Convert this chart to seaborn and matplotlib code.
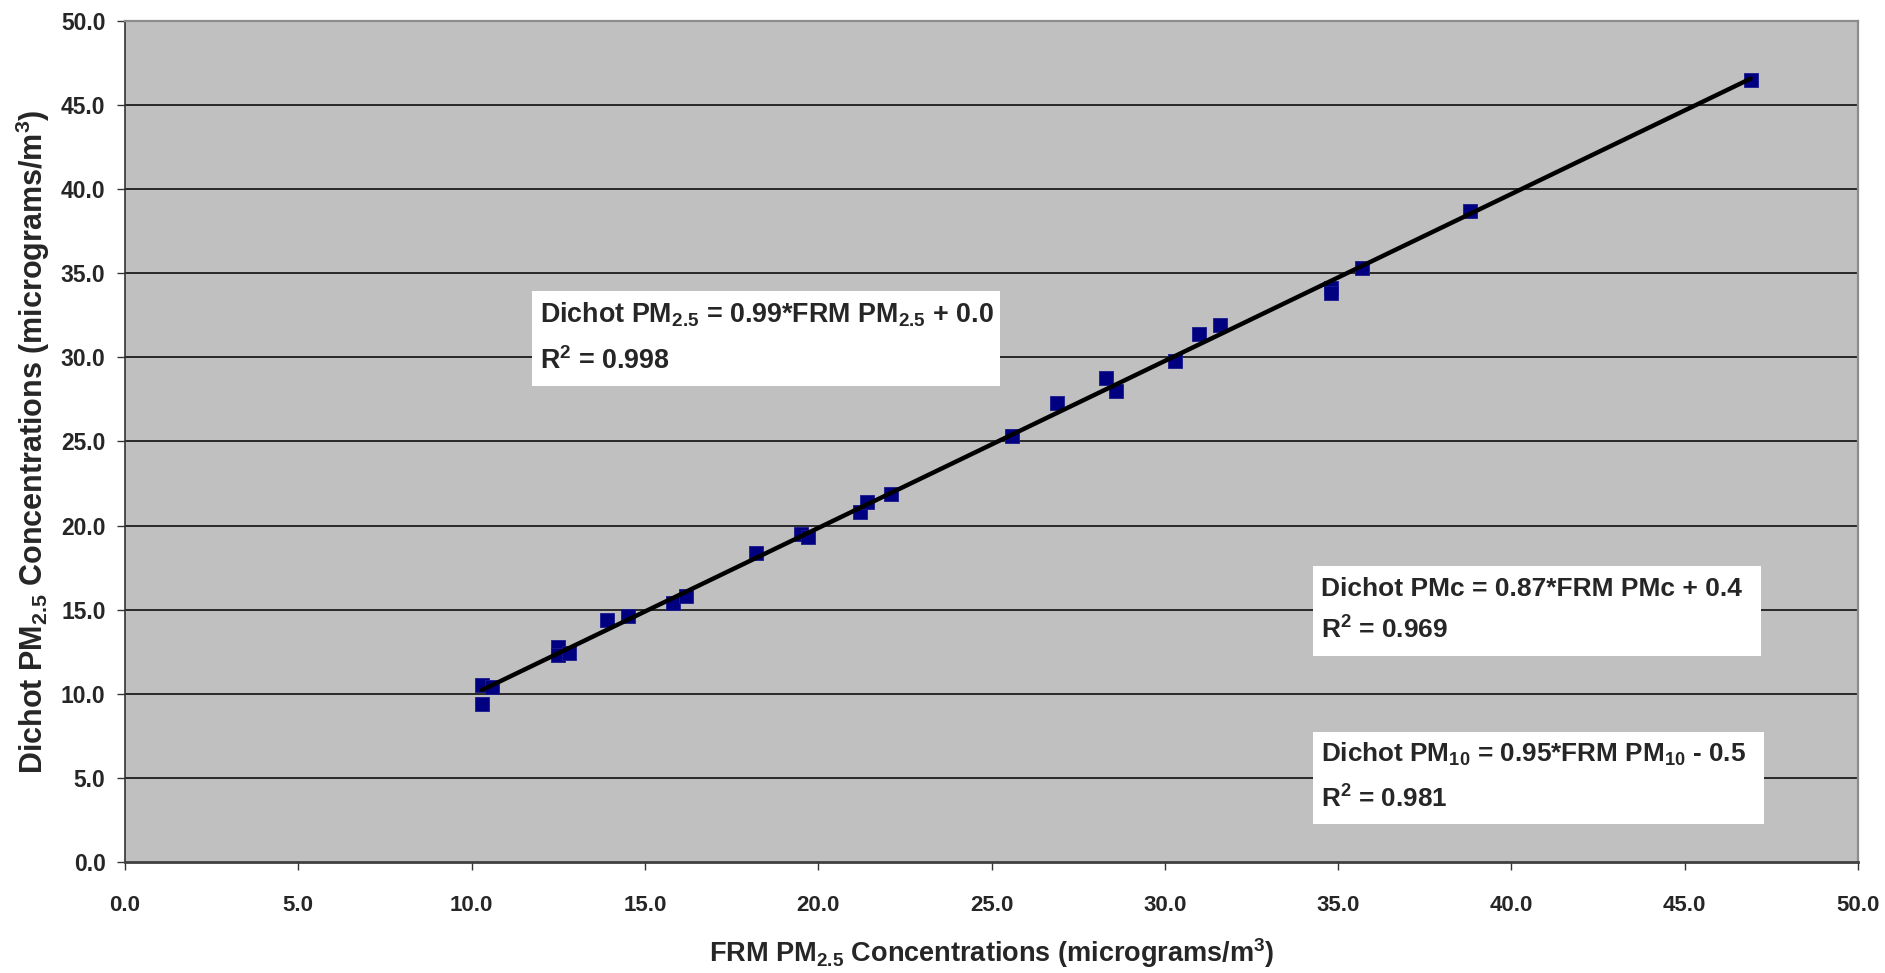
import numpy as np
import pandas as pd
import seaborn as sns
import matplotlib.pyplot as plt
from matplotlib.patches import Rectangle

# FRM vs Dichot PM2.5 (micrograms/m3)
frm_pm25 = [10.3, 10.3, 10.6, 12.5, 12.5, 12.8, 13.9, 14.5, 15.8, 16.2,
            18.2, 19.5, 19.7, 21.2, 21.4, 22.1, 25.6, 26.9, 28.3, 28.6,
            30.3, 31.0, 31.6, 34.8, 34.8, 35.7, 38.8, 46.9]
dichot_pm25 = [9.4, 10.5, 10.4, 12.8, 12.3, 12.4, 14.4, 14.6, 15.4, 15.8,
               18.4, 19.5, 19.3, 20.8, 21.4, 21.9, 25.3, 27.3, 28.8, 28.0,
               29.8, 31.4, 31.9, 34.1, 33.8, 35.3, 38.7, 46.5]

ticks = np.arange(0, 50.1, 5)
tick_labels = [f'{t:.1f}' for t in ticks]

eq_pm25 = ['Dichot PM$_{2.5}$ = 0.99*FRM PM$_{2.5}$ + 0.0', 'R$^{2}$ = 0.998']
eq_pmc = ['Dichot PMc = 0.87*FRM PMc + 0.4', 'R$^{2}$ = 0.969']
eq_pm10 = ['Dichot PM$_{10}$ = 0.95*FRM PM$_{10}$ - 0.5', 'R$^{2}$ = 0.981']

df = pd.DataFrame({'frm': frm_pm25, 'dichot': dichot_pm25})

sns.set_style('white')
plt.rcParams['font.family'] = ['Liberation Sans', 'DejaVu Sans']
plt.rcParams['mathtext.default'] = 'regular'

fig = plt.figure(figsize=(18.85, 9.73), dpi=100)
ax = fig.add_axes([0.0663, 0.1141, 0.9194, 0.8643])
ax.set_facecolor('#C0C0C0')

sns.regplot(data=df, x='frm', y='dichot', ax=ax, ci=None, truncate=True,
            marker='s',
            scatter_kws={'s': 100, 'color': '#000080', 'edgecolors': '#1a1a90',
                         'linewidths': 0.6, 'alpha': 1, 'zorder': 3},
            line_kws={'color': 'black', 'lw': 3.2, 'zorder': 4})

ax.set_xlim(0, 50)
ax.set_ylim(0, 50)
ax.set_xticks(ticks)
ax.set_yticks(ticks)
ax.set_xticklabels(tick_labels, fontsize=16, fontweight='bold')
ax.set_yticklabels(tick_labels, fontsize=16.5, fontweight='bold')
ax.tick_params(axis='y', direction='out', length=6, width=1, color='#333333', pad=8, left=True)
ax.tick_params(axis='x', direction='out', length=6, width=1, color='#333333', pad=18, bottom=True)

for t in ticks[1:-1]:
    ax.axhline(t, color='black', lw=1.1, zorder=1)

ax.spines['left'].set_color('#333333')
ax.spines['left'].set_linewidth(1.2)
ax.spines['bottom'].set_color('#404040')
ax.spines['bottom'].set_linewidth(2)
ax.spines['top'].set_color('#8c8c8c')
ax.spines['top'].set_linewidth(1.6)
ax.spines['right'].set_color('#8c8c8c')
ax.spines['right'].set_linewidth(1.6)

ax.set_xlabel('FRM PM$_{2.5}$ Concentrations (micrograms/m$^{3}$)',
              fontsize=19.5, fontweight='bold')
ax.set_ylabel('Dichot PM$_{2.5}$ Concentrations (micrograms/m$^{3}$)',
              fontsize=22, fontweight='bold')
ax.xaxis.set_label_coords(0.5, -0.088)
ax.yaxis.set_label_coords(-0.042, 0.5)

# equation boxes
boxes = [
    (eq_pm25, (11.74, 28.3, 13.51, 5.65), 11.97, (32.05, 29.31), 19.4),
    (eq_pmc, (34.28, 12.25, 12.92, 5.35), 34.51, (15.81, 13.26), 19),
    (eq_pm10, (34.28, 2.26, 13.01, 5.47), 34.51, (5.95, 3.21), 18.8),
]
for lines, (bx, by, bw, bh), tx, (y1, y2), fs in boxes:
    ax.add_patch(Rectangle((bx, by), bw, bh, facecolor='white',
                           edgecolor='none', zorder=2))
    ax.text(tx, y1, lines[0], fontsize=fs, fontweight='bold', va='baseline', zorder=5)
    ax.text(tx, y2, lines[1], fontsize=fs, fontweight='bold', va='baseline', zorder=5)

fig.savefig('out.png', dpi=100)
